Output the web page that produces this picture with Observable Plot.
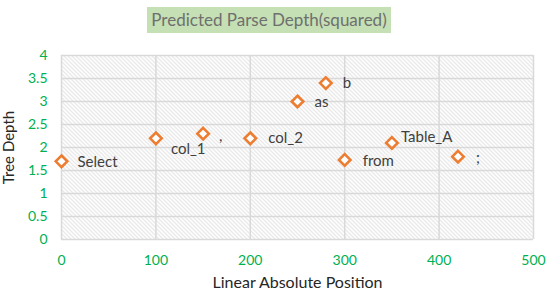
<!DOCTYPE html>
<html>
<head>
<meta charset="utf-8">
<script src="https://cdn.jsdelivr.net/npm/d3@7"></script>
<script src="https://cdn.jsdelivr.net/npm/@observablehq/plot@0.6"></script>
<style>
  html, body { margin: 0; padding: 0; background: #fff; }
  #wrap { position: relative; width: 550px; height: 299px; }
  #title {
    position: absolute; left: 147px; top: 7px; width: 244px; height: 26px;
    background: #c5e0b4; color: #6f6f6f; font-family: Lato, sans-serif;
    font-size: 17px; line-height: 26px; text-align: center; white-space: nowrap;
  }
</style>
</head>
<body>
<div id="wrap"><div id="title">Predicted Parse Depth(squared)</div></div>
<script>
const tokens = ["Select", "col_1", ",", "col_2", "as", "b", "from", "Table_A", ";"];
const positions = [0, 100, 150, 200, 250, 280, 300, 350, 420];
const depths = [1.7, 2.2, 2.3, 2.2, 3.0, 3.4, 1.73, 2.1, 1.8];
const xTicks = [0, 100, 200, 300, 400, 500];
const yTicks = [0, 0.5, 1, 1.5, 2, 2.5, 3, 3.5, 4];

// label placement nudges (styling only)
const nudge = {
  "Select": [16, 1], "col_1": [15, 11], ",": [16, 2], "col_2": [18, 0],
  "as": [17, 1], "b": [17, 0], "from": [18, 1], "Table_A": [9, -6], ";": [18, 1]
};

const data = tokens.map((t, i) => ({token: t, pos: positions[i], depth: depths[i]}));

const green = "#00b050";
const plot = Plot.plot({
  width: 550,
  height: 299,
  marginLeft: 61,
  marginRight: 17,
  marginTop: 55,
  marginBottom: 60,
  style: {fontFamily: "Lato, sans-serif", fontSize: "14px", background: "#fff"},
  x: {domain: [0, 500], ticks: xTicks, label: null},
  y: {domain: [0, 4], ticks: yTicks, label: null},
  marks: [
    Plot.frame({fill: "url(#hatch)", stroke: null}),
    Plot.gridX(xTicks, {stroke: "#d9d9d9", strokeOpacity: 1, strokeWidth: 1.5}),
    Plot.gridY(yTicks, {stroke: "#d9d9d9", strokeOpacity: 1, strokeWidth: 1.5}),
    Plot.axisX(xTicks, {tickSize: 0, tickPadding: 16, fill: green, fontSize: 14}),
    Plot.axisY(yTicks, {tickSize: 0, tickPadding: 14, fill: green, fontSize: 14, tickFormat: d => String(d)}),
    Plot.text(["Tree Depth"], {frameAnchor: "left", textAnchor: "middle", dx: -52, rotate: -90, fill: "#262626", fontSize: 15}),
    Plot.text(["Linear Absolute Position"], {frameAnchor: "bottom", dy: 48, fill: "#262626", fontSize: 16}),
    Plot.dot(data, {x: "pos", y: "depth", symbol: "diamond2", r: 5.2, fill: "#fff", stroke: "#ed7d31", strokeWidth: 2.6}),
    ...tokens.map(t => Plot.text(data.filter(d => d.token === t), {
      x: "pos", y: "depth", text: "token", textAnchor: "start",
      dx: nudge[t][0], dy: nudge[t][1], fill: "#404040", fontSize: 15
    }))
  ]
});

const ns = "http://www.w3.org/2000/svg";
const defs = document.createElementNS(ns, "defs");
defs.innerHTML = `<pattern id="hatch" patternUnits="userSpaceOnUse" width="4" height="4">
  <rect width="4" height="4" fill="#fff"/>
  <path d="M-1,-1 L5,5 M-1,3 L1,5 M3,-1 L5,1" stroke="#cfcfcf" stroke-width="0.9"/>
</pattern>`;
plot.insertBefore(defs, plot.firstChild);
document.getElementById("wrap").insertBefore(plot, document.getElementById("title"));
plot.style.position = "absolute";
plot.style.left = "0";
plot.style.top = "0";
</script>
</body>
</html>
